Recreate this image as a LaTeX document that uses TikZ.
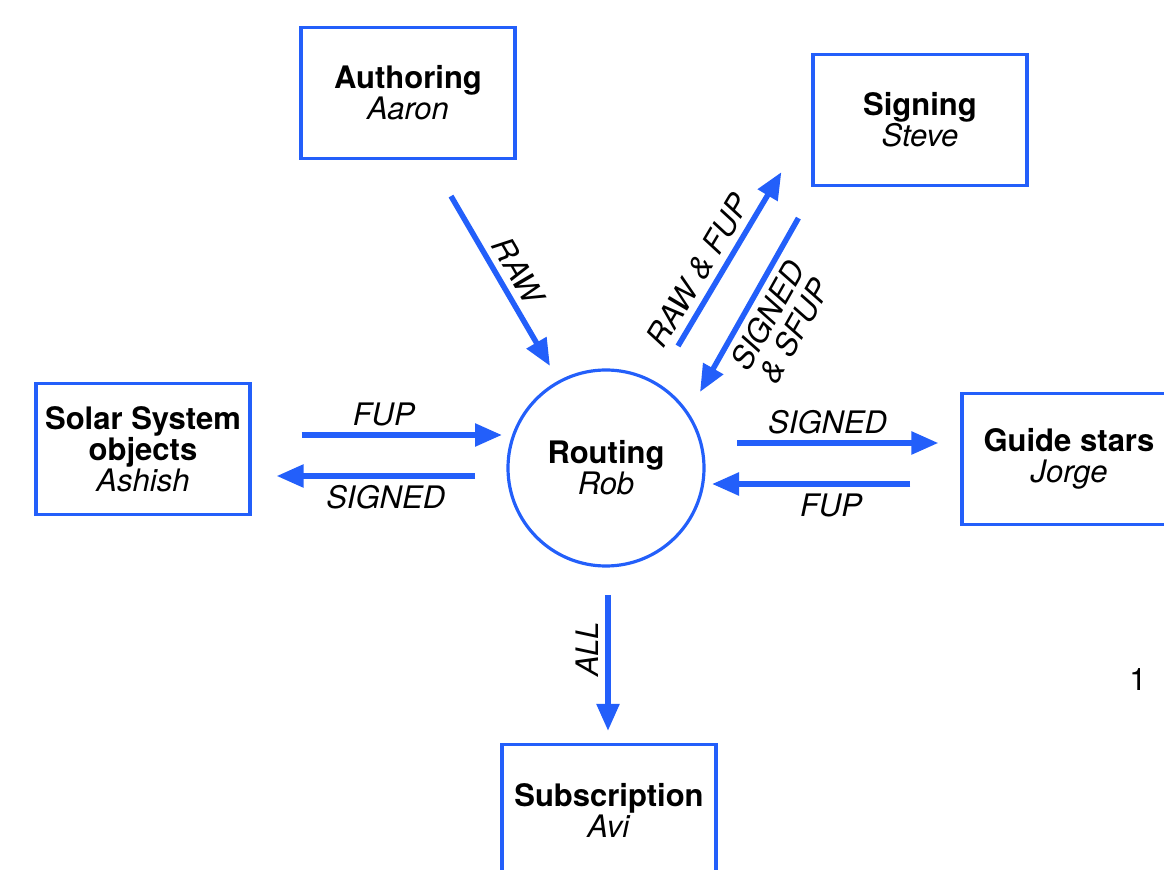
\documentclass[tikz,border=0pt]{standalone}
\usepackage{fontspec}
\setmainfont{TeX Gyre Heros}
\usetikzlibrary{calc,arrows.meta}
\definecolor{flowblue}{RGB}{35,95,250}

\begin{document}
\begin{tikzpicture}[x=0.5pt, y=0.5pt,
    font=\fontsize{15.5}{15.5}\selectfont,
    box/.style={draw=flowblue, line width=1.6pt, minimum width=107pt,
      minimum height=65.5pt, inner sep=0pt, align=center},
    hub/.style={draw=flowblue, line width=1.6pt, circle, minimum size=98pt,
      inner sep=0pt, align=center},
    flow/.style={draw=flowblue, line width=2.75pt,
      -{Triangle[length=13.5pt, width=11pt]}},
    tag/.style={font=\fontsize{15.5}{15.5}\selectfont\itshape}]
        \useasboundingbox (0,0) rectangle (1164,869);
        \clip (0,0) rectangle (1164,869);
        \node[box] (auth) at (408,776) {\textbf{Authoring}\\\textit{Aaron}};
        \node[box] (sign) at (920,749) {\textbf{Signing}\\\textit{Steve}};
        \node[box] (solar) at (143,420)
          {\textbf{Solar System}\\\textbf{objects}\\\textit{Ashish}};
        \node[box] (guide) at (1069,410) {\textbf{Guide stars}\\\textit{Jorge}};
        \node[box] (subs) at (609,59) {\textbf{Subscription}\\\textit{Avi}};
        \node[hub] (rout) at (606,401) {\textbf{Routing}\\\textit{Rob}};
        \node (mark) at (1138,189) {1};
        \draw[flow] ($(auth.south)+(43,-36)$) -- ($(rout.center)+(-56,102)$)
          node[tag, sloped, midway, above] {RAW};
        \draw[flow] ($(rout.center)+(72,122)$) -- ($(sign.south west)+(-30,15)$)
          node[tag, sloped, pos=0.37, above] {RAW \& FUP};
        \draw[flow] ($(sign.south west)+(-13,-31)$) -- ($(rout.center)+(94,76)$)
          node[tag, sloped, midway, below, align=center] {SIGNED\\\& SFUP};
        \draw[flow] ($(solar.east)+(50,14)$) -- ($(rout.center)+(-104,33)$)
          node[tag, pos=0.41, above] {FUP};
        \draw[flow] ($(rout.center)+(-131,-8)$) -- ($(solar.east)+(25,-27)$)
          node[tag, pos=0.45, below] {SIGNED};
        \draw[flow] ($(rout.center)+(131,25)$) -- ($(guide.west)+(-22,16)$)
          node[tag, pos=0.45, above] {SIGNED};
        \draw[flow] ($(guide.west)+(-50,-25)$) -- ($(rout.center)+(106,-16)$)
          node[tag, pos=0.4, below] {FUP};
        \draw[flow] ($(rout.center)+(2,-127)$) -- ($(subs.north)+(-1,12)$)
          node[tag, rotate=90, pos=0.4, above] {ALL};
      \end{tikzpicture}
\end{document}
